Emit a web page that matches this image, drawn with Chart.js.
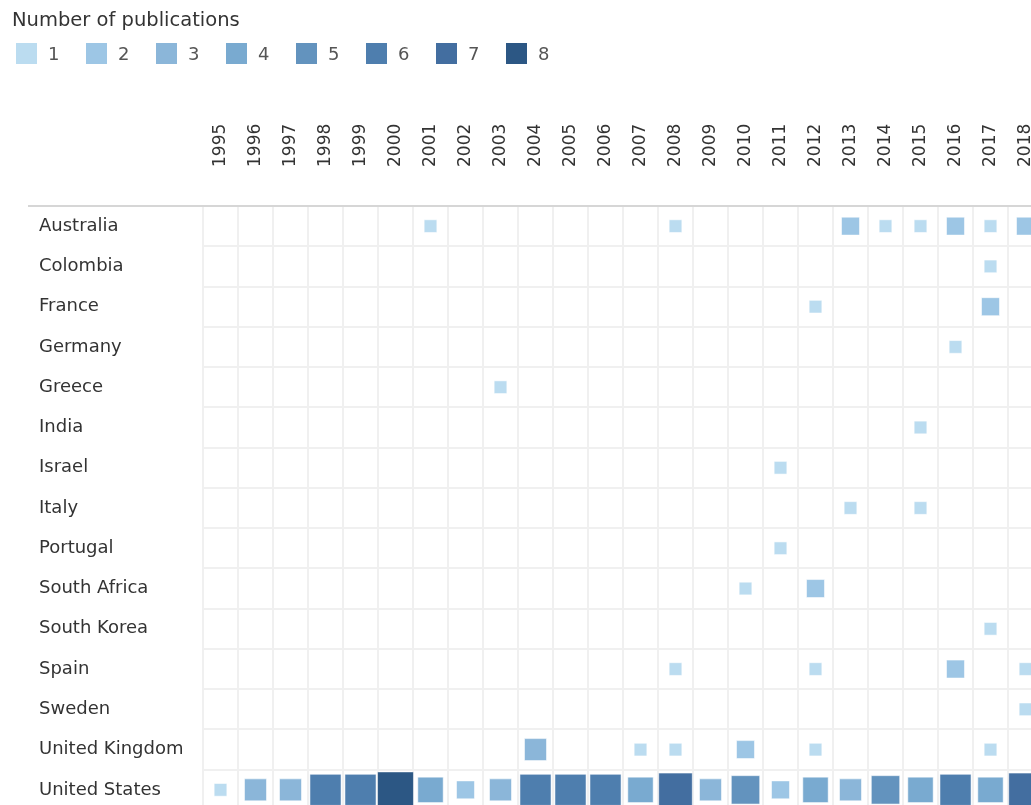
<!DOCTYPE html>
<html>
<head>
<meta charset="utf-8">
<title>Number of publications</title>
<script src="https://cdn.jsdelivr.net/npm/chart.js@4.4.1/dist/chart.umd.min.js"></script>
<style>
  html, body { margin: 0; padding: 0; background: #fff; overflow: hidden; width: 1031px; height: 805px; }
  #chart { position: absolute; left: 0; top: 0; }
  #legend { position: absolute; left: 0; top: 0; font-family: "DejaVu Sans", sans-serif; color: #333; }
  #legend .title { position: absolute; left: 12px; top: 9px; font-size: 19.5px; line-height: 22px; white-space: nowrap; }
  #legend .box { position: absolute; top: 43px; width: 21px; height: 21px; }
  #legend .lbl { position: absolute; top: 43px; line-height: 21px; font-size: 18px; color: #555; }
</style>
</head>
<body>
<canvas id="chart" width="1043" height="810" style="width:1043px;height:810px"></canvas>
<div id="legend"><div class="title">Number of publications</div></div>
<script>
const years = ['1995', '1996', '1997', '1998', '1999', '2000', '2001', '2002', '2003', '2004', '2005', '2006',
  '2007', '2008', '2009', '2010', '2011', '2012', '2013', '2014', '2015', '2016', '2017', '2018'];

const countries = ['Australia', 'Colombia', 'France', 'Germany', 'Greece', 'India', 'Israel', 'Italy',
  'Portugal', 'South Africa', 'South Korea', 'Spain', 'Sweden', 'United Kingdom', 'United States'];

// publications per year, 1995 .. 2018
const australia   = [0,0,0,0,0,0,1,0,0,0,0,0,0,1,0,0,0,0,2,1,1,2,1,2];
const colombia    = [0,0,0,0,0,0,0,0,0,0,0,0,0,0,0,0,0,0,0,0,0,0,1,0];
const france      = [0,0,0,0,0,0,0,0,0,0,0,0,0,0,0,0,0,1,0,0,0,0,2,0];
const germany     = [0,0,0,0,0,0,0,0,0,0,0,0,0,0,0,0,0,0,0,0,0,1,0,0];
const greece      = [0,0,0,0,0,0,0,0,1,0,0,0,0,0,0,0,0,0,0,0,0,0,0,0];
const india       = [0,0,0,0,0,0,0,0,0,0,0,0,0,0,0,0,0,0,0,0,1,0,0,0];
const israel      = [0,0,0,0,0,0,0,0,0,0,0,0,0,0,0,0,1,0,0,0,0,0,0,0];
const italy       = [0,0,0,0,0,0,0,0,0,0,0,0,0,0,0,0,0,0,1,0,1,0,0,0];
const portugal    = [0,0,0,0,0,0,0,0,0,0,0,0,0,0,0,0,1,0,0,0,0,0,0,0];
const southAfrica = [0,0,0,0,0,0,0,0,0,0,0,0,0,0,0,1,0,2,0,0,0,0,0,0];
const southKorea  = [0,0,0,0,0,0,0,0,0,0,0,0,0,0,0,0,0,0,0,0,0,0,1,0];
const spain       = [0,0,0,0,0,0,0,0,0,0,0,0,0,1,0,0,0,1,0,0,0,2,0,1];
const sweden      = [0,0,0,0,0,0,0,0,0,0,0,0,0,0,0,0,0,0,0,0,0,0,0,1];
const uk          = [0,0,0,0,0,0,0,0,0,3,0,0,1,1,0,2,0,1,0,0,0,0,1,0];
const us          = [1,3,3,6,6,8,4,2,3,6,6,6,4,7,3,5,2,4,3,5,4,6,4,7];

const rows = [australia, colombia, france, germany, greece, india, israel, italy,
  portugal, southAfrica, southKorea, spain, sweden, uk, us];

const levels = [1, 2, 3, 4, 5, 6, 7, 8];
const levelColors = ['#bbdcf0', '#9dc6e5', '#8bb6d9', '#79aad0', '#6393be', '#4e7eae', '#436ea0', '#2c5784'];

// one dataset per publication count, like the colour legend
var datasets = levels.map(function (lv, i) {
  var pts = [];
  rows.forEach(function (row, r) {
    row.forEach(function (n, c) {
      if (n == lv) pts.push({ x: years[c], y: countries[r] });
    });
  });
  var side = 12.7 * Math.sqrt(lv);
  return {
    label: String(lv),
    data: pts,
    pointStyle: 'rect',
    radius: side / Math.SQRT2,
    hoverRadius: 0,
    backgroundColor: levelColors[i],
    borderColor: 'rgba(255,255,255,0.55)',
    borderWidth: 1
  };
});

// html legend
var legend = document.getElementById('legend');
levels.forEach(function (lv, i) {
  var box = document.createElement('div');
  box.className = 'box';
  box.style.left = (16 + 70 * i) + 'px';
  box.style.background = levelColors[i];
  legend.appendChild(box);
  var lbl = document.createElement('div');
  lbl.className = 'lbl';
  lbl.style.left = (48 + 70 * i) + 'px';
  lbl.innerText = lv;
  legend.appendChild(lbl);
});

const headerLine = {
  id: 'headerLine',
  beforeDatasetsDraw: function (chart) {
    var c = chart.ctx, a = chart.chartArea;
    c.save();
    c.strokeStyle = '#d6d6d6';
    c.lineWidth = 2;
    c.beginPath();
    c.moveTo(28, a.top);
    c.lineTo(a.right, a.top);
    c.stroke();
    c.restore();
  }
};

var ctx = document.getElementById('chart').getContext('2d');
var myChart = new Chart(ctx, {
  type: 'bubble',
  data: { datasets: datasets },
  options: {
    responsive: false,
    animation: false,
    events: [],
    layout: { autoPadding: false, padding: { left: 39, top: 0, right: 0, bottom: 0 } },
    plugins: {
      legend: { display: false },
      tooltip: { enabled: false }
    },
    scales: {
      x: {
        type: 'category',
        labels: years,
        position: 'top',
        offset: true,
        grid: { offset: true, color: '#f0f0f0', lineWidth: 2, drawTicks: false },
        border: { display: false },
        ticks: {
          autoSkip: false,
          minRotation: 90,
          maxRotation: 90,
          padding: 39,
          color: '#333',
          font: { family: 'DejaVu Sans', size: 17, lineHeight: 0 }
        },
        afterFit: function (scale) {
          scale.height = 206;
          scale.paddingLeft = 0;
          scale.paddingRight = 0;
        }
      },
      y: {
        type: 'category',
        labels: countries,
        offset: true,
        grid: { offset: true, color: '#f0f0f0', lineWidth: 2, drawTicks: false },
        border: { display: false },
        ticks: {
          autoSkip: false,
          crossAlign: 'far',
          color: '#333',
          font: { family: 'DejaVu Sans', size: 18 }
        },
        afterFit: function (scale) {
          scale.width = 164;
          scale.paddingTop = 0;
          scale.paddingBottom = 0;
        }
      }
    }
  },
  plugins: [headerLine]
});
</script>
</body>
</html>
